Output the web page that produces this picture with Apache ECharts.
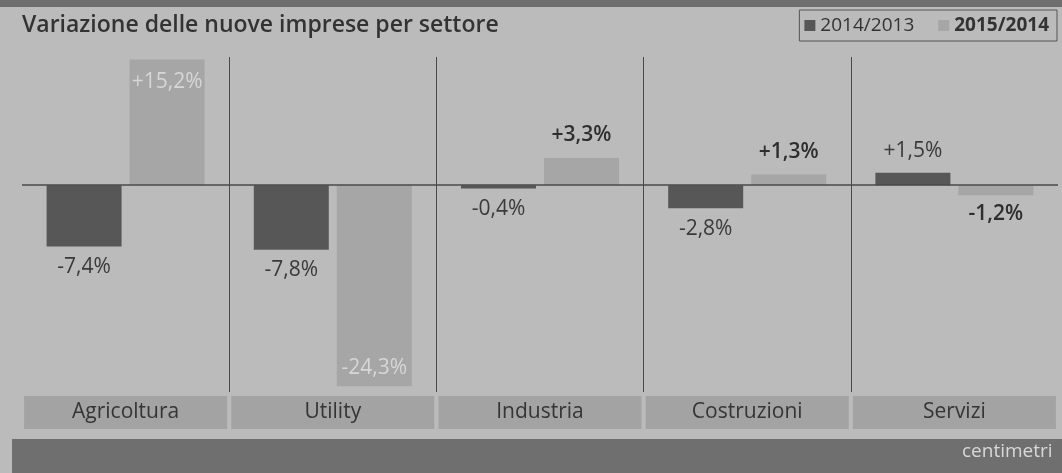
<!DOCTYPE html>
<html><head><meta charset="utf-8">
<script src="https://cdn.jsdelivr.net/npm/echarts@6/dist/echarts.min.js"></script>
<style>html,body{margin:0;padding:0;background:#bababa;} #c{width:1062px;height:473px;}</style>
</head><body><div id="c"></div>
<script>
const categories = ['Agricoltura', 'Utility', 'Industria', 'Costruzioni', 'Servizi'];
const seriesNames = ['2014/2013', '2015/2014'];
const values2014 = [-7.4, -7.8, -0.4, -2.8, 1.5];
const values2015 = [15.2, -24.3, 3.3, 1.3, -1.2];

const FONT = "'Open Sans', 'DejaVu Sans', sans-serif";
const fmt = v => (v > 0 ? '+' : '') + v.toFixed(1).replace('.', ',') + '%';

const darkItems = values2014.map(v => ({
  value: v,
  label: { position: v < 0 ? 'bottom' : 'top', distance: v < 0 ? 10 : 11 }
}));
const lightItems = values2015.map(v => {
  const inside = Math.abs(v) > 10;
  return {
    value: v,
    label: inside
      ? { position: v < 0 ? 'insideBottom' : 'insideTop', distance: v < 0 ? 8 : 12, color: '#d6d6d6', fontWeight: 'normal' }
      : { position: v < 0 ? 'bottom' : 'top', distance: v < 0 ? 8 : 12 }
  };
});

const chart = echarts.init(document.getElementById('c'), null, { renderer: 'canvas' });
chart.setOption({
  animation: false,
  backgroundColor: '#bbbbbb',
  textStyle: { fontFamily: FONT },
  title: {
    text: 'Variazione delle nuove imprese per settore',
    left: 22, top: 14, padding: 0,
    textStyle: { fontFamily: FONT, fontSize: 23, fontWeight: 600, color: '#333333' }
  },
  legend: {
    right: 5, top: 10,
    icon: 'rect', itemWidth: 11, itemHeight: 11, itemGap: 24,
    padding: [6, 8, 6, 5],
    borderColor: '#555', borderWidth: 1,
    textStyle: { fontFamily: FONT, fontSize: 19, color: '#333' },
    data: [
      { name: seriesNames[0] },
      { name: seriesNames[1], textStyle: { fontWeight: 'bold' } }
    ]
  },
  grid: { left: 22, right: 4, top: 57, bottom: 81, containLabel: false, outerBoundsMode: 'none' },
  xAxis: {
    type: 'category',
    data: categories,
    position: 'bottom',
    axisLine: { show: false },
    axisTick: { show: false },
    axisLabel: {
      margin: 4,
      fontFamily: FONT, fontSize: 21, color: '#353535',
      backgroundColor: '#a3a3a3',
      width: 203, height: 33, lineHeight: 33,
      align: 'center', verticalAlign: 'top', padding: 0
    },
    splitLine: {
      show: true,
      lineStyle: {
        color: ['rgba(0,0,0,0)', '#4a4a4a', '#4a4a4a', '#4a4a4a', '#4a4a4a', 'rgba(0,0,0,0)'],
        width: 1
      }
    }
  },
  yAxis: { type: 'value', min: -25, max: 15.5, show: false },
  series: [
    {
      name: seriesNames[0], type: 'bar',
      barWidth: 75, barGap: '10.7%',
      itemStyle: { color: '#575757' },
      label: { show: true, formatter: p => fmt(p.value), fontFamily: FONT, fontSize: 21, color: '#3a3a3a' },
      data: darkItems,
      markLine: {
        silent: true, symbol: ['none', 'none'],
        label: { show: false },
        lineStyle: { color: '#4a4a4a', width: 1.5, type: 'solid' },
        data: [{ yAxis: 0 }]
      }
    },
    {
      name: seriesNames[1], type: 'bar',
      barWidth: 75,
      itemStyle: { color: '#a6a6a6' },
      label: { show: true, formatter: p => fmt(p.value), fontFamily: FONT, fontSize: 21, fontWeight: 600, color: '#2e2e2e' },
      data: lightItems
    }
  ],
  graphic: [
    { type: 'rect', z: -1, shape: { x: 0, y: 0, width: 1062, height: 7 }, style: { fill: '#6e6e6e' } },
    { type: 'rect', z: -1, shape: { x: 12, y: 439, width: 1050, height: 34 }, style: { fill: '#6f6f6f' } },
    { type: 'text', left: 962, top: 442, style: { text: 'centimetri', fill: '#d8d8d8', fontFamily: FONT, fontSize: 19 } }
  ]
});
</script>
</body></html>
